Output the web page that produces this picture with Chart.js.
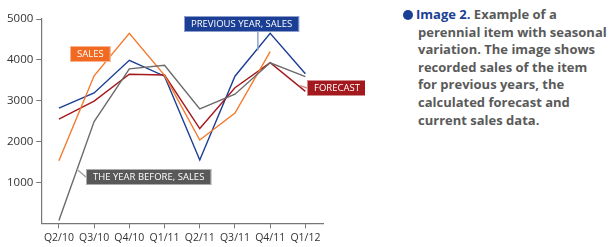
<!DOCTYPE html>
<html>
<head>
<meta charset="utf-8">
<script src="https://cdn.jsdelivr.net/npm/chart.js@4/dist/chart.umd.min.js"></script>
<style>
  body { margin: 0; background: #fff; width: 610px; height: 247px; overflow: hidden; position: relative; font-family: "Open Sans", sans-serif; }
  #wrap { position: absolute; left: 0; top: 0; width: 365px; height: 247px; }
  #note { position: absolute; left: 403px; top: 6px; width: 207px; font-size: 13px; font-weight: bold; line-height: 17.6px; color: #5a5a5a; white-space: nowrap; }
  #note .dot { display: inline-block; width: 10px; height: 10px; border-radius: 50%; background: #1b3f94; margin-right: 3px; vertical-align: -1px; }
  #note .head { color: #1b3f94; }
  #note .rest { padding-left: 15px; }
</style>
</head>
<body>
<div id="wrap"><canvas id="chart"></canvas></div>
<div id="note"><span class="dot"></span><span class="head">Image 2.</span> Example of a<div class="rest">perennial item with seasonal<br>variation. The image shows<br>recorded sales of the item<br>for previous years, the<br>calculated forecast and<br>current sales data.</div></div>
<script>
// Квартали
const quarters = ["Q2/10", "Q3/10", "Q4/10", "Q1/11", "Q2/11", "Q3/11", "Q4/11", "Q1/12"];

// Серії
const sales = [1530, 3610, 4650, 3620, 2040, 2700, 4200, null];
const previousYear = [2820, 3190, 3990, 3600, 1550, 3600, 4650, 3660];
const yearBefore = [70, 2490, 3780, 3870, 2800, 3160, 3930, 3590];
const forecast = [2550, 2990, 3650, 3630, 2320, 3320, 3930, 3230];

const yTicks = [1000, 2000, 3000, 4000, 5000];

// Підписи серій: текст, колір, точка прив'язки (індекс, значення), зсув рамки
const callouts = [
  { text: "SALES", color: "#f26a21", line: "#f6a070", idx: 1, val: 4150, box: { x: 70, y: 46 }, side: "right" },
  { text: "PREVIOUS YEAR, SALES", color: "#1b3f94", line: "#8ea3cc", idx: 5.65, val: 4230, box: { x: 184, y: 16 }, side: "bottom" },
  { text: "FORECAST", color: "#a3191e", line: "#d08a8c", idx: 6.85, val: 3370, box: { x: 307, y: 80 }, side: "left" },
  { text: "THE YEAR BEFORE, SALES", color: "#595959", line: "#a0a0a0", idx: 0.5, val: 1330, box: { x: 86, y: 169 }, side: "left" }
];

const calloutPlugin = {
  id: "callouts",
  afterDraw(chart) {
    const ctx = chart.ctx;
    const xs = chart.scales.x, ys = chart.scales.y;
    ctx.save();
    ctx.font = "9.5px 'Open Sans', sans-serif";
    callouts.forEach(c => {
      const w = ctx.measureText(c.text).width + 14;
      const h = 16;
      const i0 = Math.floor(c.idx), fr = c.idx - i0;
      const px = xs.getPixelForValue(i0) + fr * (xs.getPixelForValue(i0 + 1) - xs.getPixelForValue(i0));
      const py = ys.getPixelForValue(c.val);
      let sx, sy;
      if (c.side === "right") { sx = c.box.x + w; sy = c.box.y + h / 2; }
      else if (c.side === "left") { sx = c.box.x; sy = c.box.y + h / 2; }
      else { sx = px; sy = c.box.y + h; }
      ctx.strokeStyle = c.line;
      ctx.lineWidth = 1.5;
      ctx.beginPath();
      ctx.moveTo(sx, sy);
      ctx.lineTo(px, py);
      ctx.stroke();
      ctx.fillStyle = c.color;
      ctx.fillRect(c.box.x, c.box.y, w, h);
      ctx.strokeStyle = "rgba(255,255,255,0.5)";
      ctx.lineWidth = 1;
      ctx.strokeRect(c.box.x + 0.5, c.box.y + 0.5, w - 1, h - 1);
      ctx.fillStyle = "#fff";
      ctx.textBaseline = "middle";
      ctx.fillText(c.text, c.box.x + 7, c.box.y + h / 2 + 0.5);
    });
    ctx.restore();
  }
};

function lineSet(label, data, color) {
  return {
    label: label,
    data: data,
    borderColor: color,
    borderWidth: 1.4,
    pointRadius: 0,
    tension: 0,
    fill: false
  };
}

new Chart(document.getElementById("chart"), {
  type: "line",
  data: {
    labels: quarters,
    datasets: [
      lineSet("The year before, sales", yearBefore, "#6b6b6b"),
      lineSet("Sales", sales, "#f47a2e"),
      lineSet("Forecast", forecast, "#a3191e"),
      lineSet("Previous year, sales", previousYear, "#1b3f94")
    ]
  },
  options: {
    responsive: true,
    maintainAspectRatio: false,
    animation: false,
    layout: { padding: { top: 19, right: 42, bottom: 0, left: 4 } },
    plugins: { legend: { display: false }, tooltip: { enabled: false } },
    scales: {
      x: {
        offset: true,
        grid: { offset: false, drawOnChartArea: false, drawTicks: true, tickLength: 5, color: "#777" },
        border: { display: true, color: "#777", width: 1.2 },
        ticks: { color: "#333", font: { family: "'Open Sans', sans-serif", size: 10.5 }, padding: 3, maxRotation: 0 }
      },
      y: {
        min: 0,
        max: 5000,
        afterBuildTicks: axis => { axis.ticks = yTicks.map(v => ({ value: v })); },
        grid: { drawOnChartArea: false, drawTicks: true, tickLength: 5, color: "#777" },
        border: { display: true, color: "#777", width: 1.2 },
        ticks: { color: "#333", font: { family: "'Open Sans', sans-serif", size: 11.5 }, padding: 3, callback: v => String(v) }
      }
    }
  },
  plugins: [calloutPlugin]
});
</script>
</body>
</html>
